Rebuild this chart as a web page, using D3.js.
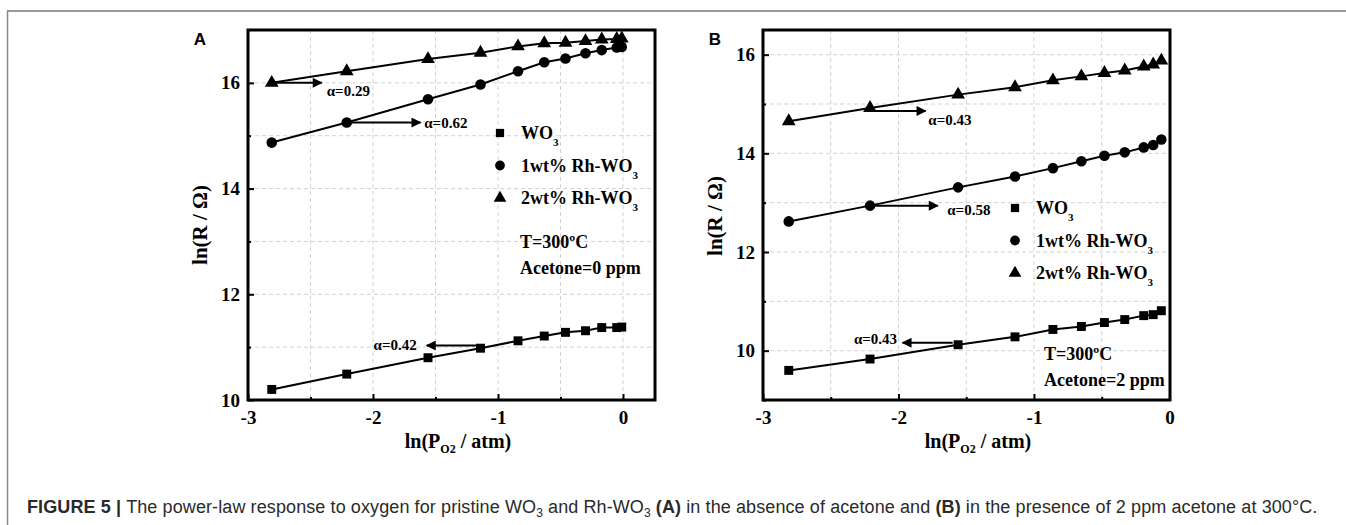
<!DOCTYPE html>
<html>
<head>
<meta charset="utf-8">
<script src="https://cdn.jsdelivr.net/npm/d3@7"></script>
<style>
  body { margin: 0; background: #fff; }
  svg { display: block; }
  .serif { font-family: "Liberation Serif", "Times New Roman", serif; font-weight: bold; }
</style>
</head>
<body>
<div id="chart"></div>
<script>
// ---- data ----
// panel A : acetone = 0 ppm
var xA = [-2.81, -2.21, -1.56, -1.14, -0.84, -0.63, -0.46, -0.30, -0.17, -0.05, -0.01];
var wo3A = [10.20, 10.49, 10.80, 10.98, 11.12, 11.21, 11.28, 11.31, 11.37, 11.37, 11.38];
var rh1A = [14.87, 15.25, 15.69, 15.97, 16.22, 16.39, 16.46, 16.56, 16.62, 16.67, 16.68];
var rh2A = [16.00, 16.22, 16.45, 16.57, 16.69, 16.75, 16.76, 16.79, 16.82, 16.83, 16.84];
// panel B : acetone = 2 ppm
var xB = [-2.81, -2.21, -1.56, -1.14, -0.86, -0.65, -0.48, -0.33, -0.19, -0.12, -0.06];
var wo3B = [9.60, 9.83, 10.12, 10.28, 10.43, 10.49, 10.57, 10.63, 10.71, 10.73, 10.81];
var rh1B = [12.62, 12.94, 13.31, 13.53, 13.70, 13.84, 13.95, 14.02, 14.12, 14.17, 14.28];
var rh2B = [14.65, 14.92, 15.19, 15.34, 15.48, 15.56, 15.63, 15.68, 15.76, 15.80, 15.88];

var seriesNames = ["WO", "1wt% Rh-WO", "2wt% Rh-WO"];   // each followed by subscript 3
var xTicks = [-3, -2, -1, 0];
var xMinor = [-2.5, -1.5, -0.5];
var yTicks = [10, 12, 14, 16];
var yMinorA = [11, 13, 15];
var yMinorB = [9, 11, 13, 15];

// alpha annotations: arrow from (x0,y) to (x1,y), text at (tx,ty)
var notesA = [
  {label: "α=0.29", x0: -2.80, x1: -2.41, y: 16.00, tx: -2.37, ty: 15.86, anchor: "start"},
  {label: "α=0.62", x0: -2.19, x1: -1.62, y: 15.25, tx: -1.59, ty: 15.25, anchor: "start"},
  {label: "α=0.42", x0: -1.16, x1: -1.57, y: 11.03, tx: -1.65, ty: 11.04, anchor: "end"}
];
var notesB = [
  {label: "α=0.43", x0: -2.20, x1: -1.80, y: 14.86, tx: -1.78, ty: 14.68, anchor: "start"},
  {label: "α=0.58", x0: -2.19, x1: -1.71, y: 12.94, tx: -1.64, ty: 12.86, anchor: "start"},
  {label: "α=0.43", x0: -1.60, x1: -1.97, y: 10.16, tx: -2.01, ty: 10.24, anchor: "end"}
];

var W = 1346, H = 525;
var svg = d3.select("#chart").append("svg").attr("width", W).attr("height", H);

svg.append("defs").append("marker")
  .attr("id", "arrow")
  .attr("viewBox", "0 0 10 10")
  .attr("refX", 9).attr("refY", 5)
  .attr("markerWidth", 6).attr("markerHeight", 5)
  .attr("markerUnits", "strokeWidth")
  .attr("orient", "auto")
  .append("path").attr("d", "M0,0L10,5L0,10Z").attr("fill", "#000");

// outer frame lines of the figure page
svg.append("line").attr("x1", 7).attr("x2", W).attr("y1", 11).attr("y2", 11)
  .attr("stroke", "#777").attr("stroke-width", 1.5);
svg.append("line").attr("x1", 7.5).attr("x2", 7.5).attr("y1", 11).attr("y2", H)
  .attr("stroke", "#888").attr("stroke-width", 1.5);

var symbols = [d3.symbolSquare, d3.symbolCircle, d3.symbolTriangle];
var symSize = [80, 88, 82];

function drawPanel(opt) {
  var x = d3.scaleLinear().domain(opt.xDomain).range([0, opt.w]);
  var y = d3.scaleLinear().domain(opt.yDomain).range([opt.h, 0]);
  var g = svg.append("g").attr("transform", "translate(" + opt.left + "," + opt.top + ")");

  // grid
  var gx = d3.range(-2.5, opt.xDomain[1] + 0.01, 0.5);
  g.selectAll(".gx").data(gx).enter().append("line")
    .attr("x1", function(d) { return x(d); }).attr("x2", function(d) { return x(d); })
    .attr("y1", 0).attr("y2", opt.h)
    .attr("stroke", "#d2d2d2").attr("stroke-width", 1).attr("stroke-dasharray", "4,3");
  g.selectAll(".gy").data(opt.yGrid).enter().append("line")
    .attr("x1", 0).attr("x2", opt.w)
    .attr("y1", function(d) { return y(d); }).attr("y2", function(d) { return y(d); })
    .attr("stroke", "#d2d2d2").attr("stroke-width", 1).attr("stroke-dasharray", "4,3");

  // series
  var line = d3.line().x(function(d) { return x(d[0]); }).y(function(d) { return y(d[1]); });
  opt.series.forEach(function(vals, i) {
    var pts = opt.xs.map(function(v, j) { return [v, vals[j]]; });
    g.append("path").datum(pts).attr("d", line)
      .attr("fill", "none").attr("stroke", "#000").attr("stroke-width", 2);
    g.selectAll(".pt" + i).data(pts).enter().append("path")
      .attr("d", d3.symbol().type(symbols[i]).size(symSize[i]))
      .attr("transform", function(d) { return "translate(" + x(d[0]) + "," + y(d[1]) + ")"; })
      .attr("fill", "#000");
  });

  // axes : ticks inside
  var fmt = function(d) { return String(d); };
  g.append("g").attr("transform", "translate(0," + opt.h + ")")
    .call(d3.axisBottom(x).tickValues(xTicks).tickSize(-6).tickPadding(11).tickFormat(fmt));
  g.append("g").attr("transform", "translate(0," + opt.h + ")")
    .call(d3.axisBottom(x).tickValues(xMinor).tickSize(-3).tickFormat(""));
  g.append("g")
    .call(d3.axisLeft(y).tickValues(yTicks).tickSize(-6).tickPadding(8).tickFormat(fmt));
  g.append("g")
    .call(d3.axisLeft(y).tickValues(opt.yMinor).tickSize(-3).tickFormat(""));
  g.selectAll(".domain").remove();
  g.selectAll(".tick line").attr("stroke", "#000").attr("stroke-width", 2);
  g.selectAll(".tick text").attr("class", "serif").attr("font-size", 19).attr("fill", "#000");

  // frame
  g.append("rect").attr("width", opt.w).attr("height", opt.h)
    .attr("fill", "none").attr("stroke", "#000").attr("stroke-width", 3);

  // alpha notes
  opt.notes.forEach(function(n) {
    g.append("line")
      .attr("x1", x(n.x0)).attr("x2", x(n.x1)).attr("y1", y(n.y)).attr("y2", y(n.y))
      .attr("stroke", "#000").attr("stroke-width", 2).attr("marker-end", "url(#arrow)");
    g.append("text").attr("class", "serif")
      .attr("x", x(n.tx)).attr("y", y(n.ty)).attr("dy", "0.35em")
      .attr("text-anchor", n.anchor).attr("font-size", 15).text(n.label);
  });

  // legend
  seriesNames.forEach(function(name, i) {
    var ly = opt.legY + i * 32.5;
    svg.append("path")
      .attr("d", d3.symbol().type(symbols[i]).size(symSize[i] * 0.85))
      .attr("transform", "translate(" + opt.legX + "," + ly + ")").attr("fill", "#000");
    var t = svg.append("text").attr("class", "serif").attr("font-size", 18)
      .attr("x", opt.legX + 21).attr("y", ly + 6);
    t.append("tspan").text(name);
    t.append("tspan").attr("font-size", 11).attr("dy", 7).text("3");
  });
  opt.cond.forEach(function(s, i) {
    svg.append("text").attr("class", "serif").attr("font-size", 18)
      .attr("x", opt.condX).attr("y", opt.condY + i * 25.5).attr("dy", "0.35em").text(s);
  });

  // axis titles
  svg.append("text").attr("class", "serif").attr("font-size", 21)
    .attr("text-anchor", "middle")
    .attr("transform", "translate(" + opt.yTitleX + "," + opt.yTitleY + ") rotate(-90)")
    .text("ln(R / Ω)");
  var xt = svg.append("text").attr("class", "serif").attr("font-size", 20)
    .attr("text-anchor", "middle")
    .attr("x", opt.xTitleX).attr("y", 448);
  xt.append("tspan").text("ln(P");
  xt.append("tspan").attr("font-size", 12).attr("dy", 5).text("O2");
  xt.append("tspan").attr("dy", -5).text(" / atm)");

  svg.append("text").attr("x", opt.letterX).attr("y", 45)
    .attr("font-family", "Liberation Sans, Arial, sans-serif").attr("font-weight", "bold")
    .attr("font-size", 17).attr("text-anchor", "middle").text(opt.letter);
}

drawPanel({
  left: 248, top: 30, w: 407, h: 370,
  xDomain: [-3, 0.256], yDomain: [10, 17],
  yGrid: [11, 12, 13, 14, 15, 16], yMinor: yMinorA,
  xs: xA, series: [wo3A, rh1A, rh2A], notes: notesA,
  legX: 500, legY: 133, condX: 520, condY: 242,
  cond: ["T=300ºC", "Acetone=0 ppm"],
  yTitleX: 207, yTitleY: 225, xTitleX: 458, letter: "A", letterX: 200
});
drawPanel({
  left: 763, top: 30, w: 407, h: 370,
  xDomain: [-3, 0.004], yDomain: [9, 16.5],
  yGrid: [10, 11, 12, 13, 14, 15, 16], yMinor: yMinorB,
  xs: xB, series: [wo3B, rh1B, rh2B], notes: notesB,
  legX: 1015, legY: 208, condX: 1044, condY: 354,
  cond: ["T=300ºC", "Acetone=2 ppm"],
  yTitleX: 722, yTitleY: 216, xTitleX: 978, letter: "B", letterX: 715
});

// caption
var cap = svg.append("text").attr("x", 27).attr("y", 513)
  .attr("font-family", "Liberation Sans, Arial, sans-serif").attr("font-size", 18)
  .attr("letter-spacing", 0.1).attr("fill", "#2a2a2a");
cap.append("tspan").attr("font-weight", "bold").text("FIGURE 5 | ");
cap.append("tspan").text("The power-law response to oxygen for pristine WO");
cap.append("tspan").attr("font-size", 12).attr("dy", 4).text("3");
cap.append("tspan").attr("dy", -4).text(" and Rh-WO");
cap.append("tspan").attr("font-size", 12).attr("dy", 4).text("3");
cap.append("tspan").attr("dy", -4).text(" ");
cap.append("tspan").attr("font-weight", "bold").text("(A)");
cap.append("tspan").text(" in the absence of acetone and ");
cap.append("tspan").attr("font-weight", "bold").text("(B)");
cap.append("tspan").text(" in the presence of 2 ppm acetone at 300°C.");
</script>
</body>
</html>
